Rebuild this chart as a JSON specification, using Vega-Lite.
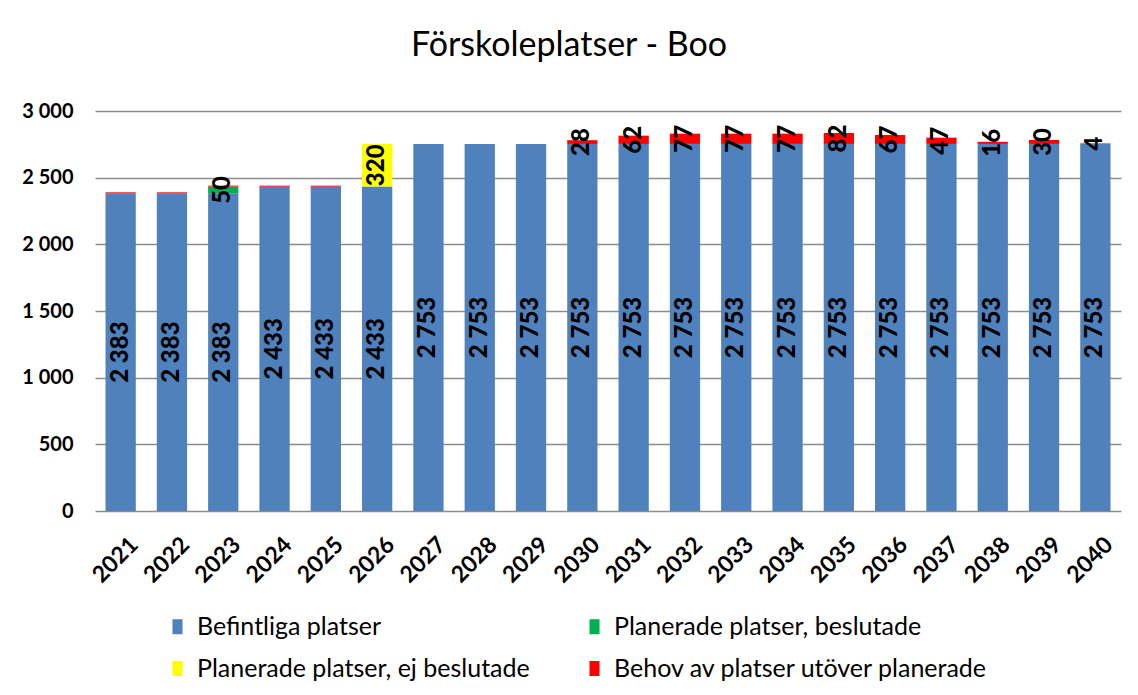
{
  "$schema": "https://vega.github.io/schema/vega-lite/v6.json",
  "autosize": "none",
  "width": 1026,
  "height": 400,
  "padding": {"left": 95, "top": 111, "right": 17, "bottom": 184},
  "background": "white",
  "title": {
    "text": "Förskoleplatser - Boo",
    "anchor": "middle",
    "dx": -39,
    "offset": 38,
    "fontSize": 34,
    "font": "Lato",
    "fontWeight": "normal",
    "color": "black"
  },
  "config": {
    "locale": {"number": {"decimal": ",", "thousands": " ", "grouping": [3], "currency": ["", " kr"]}},
    "view": {"stroke": null},
    "font": "Lato"
  },
  "data": {
    "values": [
      {"year": "2021", "category": "Befintliga platser", "value": 2383},
      {"year": "2022", "category": "Befintliga platser", "value": 2383},
      {"year": "2023", "category": "Befintliga platser", "value": 2383},
      {"year": "2024", "category": "Befintliga platser", "value": 2433},
      {"year": "2025", "category": "Befintliga platser", "value": 2433},
      {"year": "2026", "category": "Befintliga platser", "value": 2433},
      {"year": "2027", "category": "Befintliga platser", "value": 2753},
      {"year": "2028", "category": "Befintliga platser", "value": 2753},
      {"year": "2029", "category": "Befintliga platser", "value": 2753},
      {"year": "2030", "category": "Befintliga platser", "value": 2753},
      {"year": "2031", "category": "Befintliga platser", "value": 2753},
      {"year": "2032", "category": "Befintliga platser", "value": 2753},
      {"year": "2033", "category": "Befintliga platser", "value": 2753},
      {"year": "2034", "category": "Befintliga platser", "value": 2753},
      {"year": "2035", "category": "Befintliga platser", "value": 2753},
      {"year": "2036", "category": "Befintliga platser", "value": 2753},
      {"year": "2037", "category": "Befintliga platser", "value": 2753},
      {"year": "2038", "category": "Befintliga platser", "value": 2753},
      {"year": "2039", "category": "Befintliga platser", "value": 2753},
      {"year": "2040", "category": "Befintliga platser", "value": 2753},
      {"year": "2023", "category": "Planerade platser, beslutade", "value": 50},
      {"year": "2026", "category": "Planerade platser, ej beslutade", "value": 320},
      {"year": "2021", "category": "Behov av platser utöver planerade", "value": 7},
      {"year": "2022", "category": "Behov av platser utöver planerade", "value": 7},
      {"year": "2023", "category": "Behov av platser utöver planerade", "value": 7},
      {"year": "2024", "category": "Behov av platser utöver planerade", "value": 7},
      {"year": "2025", "category": "Behov av platser utöver planerade", "value": 7},
      {"year": "2030", "category": "Behov av platser utöver planerade", "value": 28},
      {"year": "2031", "category": "Behov av platser utöver planerade", "value": 62},
      {"year": "2032", "category": "Behov av platser utöver planerade", "value": 77},
      {"year": "2033", "category": "Behov av platser utöver planerade", "value": 77},
      {"year": "2034", "category": "Behov av platser utöver planerade", "value": 77},
      {"year": "2035", "category": "Behov av platser utöver planerade", "value": 82},
      {"year": "2036", "category": "Behov av platser utöver planerade", "value": 67},
      {"year": "2037", "category": "Behov av platser utöver planerade", "value": 47},
      {"year": "2038", "category": "Behov av platser utöver planerade", "value": 16},
      {"year": "2039", "category": "Behov av platser utöver planerade", "value": 30},
      {"year": "2040", "category": "Behov av platser utöver planerade", "value": 4}
    ]
  },
  "transform": [
    {"calculate": "indexof(['Befintliga platser','Planerade platser, beslutade','Planerade platser, ej beslutade','Behov av platser utöver planerade'], datum.category)", "as": "ord"},
    {"stack": "value", "groupby": ["year"], "sort": [{"field": "ord", "order": "ascending"}], "as": ["y0", "y1"]},
    {"calculate": "(datum.y0 + datum.y1) / 2", "as": "ymid"}
  ],
  "encoding": {
    "x": {
      "field": "year",
      "type": "ordinal",
      "title": null,
      "scale": {"paddingInner": 0.41, "paddingOuter": 0.205},
      "axis": {
        "labelAngle": -45,
        "labelFontSize": 23,
        "labelFontWeight": "bold",
        "labelColor": "black",
        "labelPadding": 22,
        "labelOffset": 6,
        "ticks": false,
        "domain": false
      }
    }
  },
  "layer": [
    {
      "mark": {"type": "bar"},
      "encoding": {
        "y": {
          "field": "y0",
          "type": "quantitative",
          "title": null,
          "scale": {"domain": [0, 3000], "nice": false},
          "axis": {
            "values": [0, 500, 1000, 1500, 2000, 2500, 3000],
            "format": ",d",
            "labelFontSize": 20,
            "labelFontWeight": "bold",
            "labelColor": "black",
            "labelPadding": 22,
            "ticks": false,
            "domain": false,
            "grid": true,
            "gridColor": "#8c8c8c",
            "gridWidth": 1.5
          }
        },
        "y2": {"field": "y1"},
        "color": {
          "field": "category",
          "type": "nominal",
          "scale": {
            "domain": ["Befintliga platser", "Planerade platser, beslutade", "Planerade platser, ej beslutade", "Behov av platser utöver planerade"],
            "range": ["#4F81BD", "#00B050", "#FFFF00", "#FF0000"]
          },
          "legend": {
            "title": null,
            "orient": "none",
            "legendX": 70,
            "legendY": 503,
            "direction": "horizontal",
            "columns": 2,
            "columnPadding": 52,
            "rowPadding": 16,
            "labelFontSize": 25,
            "labelFont": "Lato",
            "labelColor": "black",
            "labelLimit": 600,
            "labelOffset": 7,
            "symbolType": "M-0.67,-1L0.67,-1L0.67,1L-0.67,1Z",
            "symbolSize": 225,
            "symbolStrokeWidth": 0
          }
        }
      }
    },
    {
      "transform": [
        {"filter": "datum.year >= '2026' || datum.category != 'Behov av platser utöver planerade'"}
      ],
      "mark": {"type": "text", "angle": 270, "align": "center", "baseline": "middle", "fontSize": 24, "fontWeight": 900, "font": "Lato", "color": "black"},
      "encoding": {
        "y": {"field": "ymid", "type": "quantitative"},
        "text": {"field": "value", "type": "quantitative", "format": ",d"}
      }
    }
  ]
}
